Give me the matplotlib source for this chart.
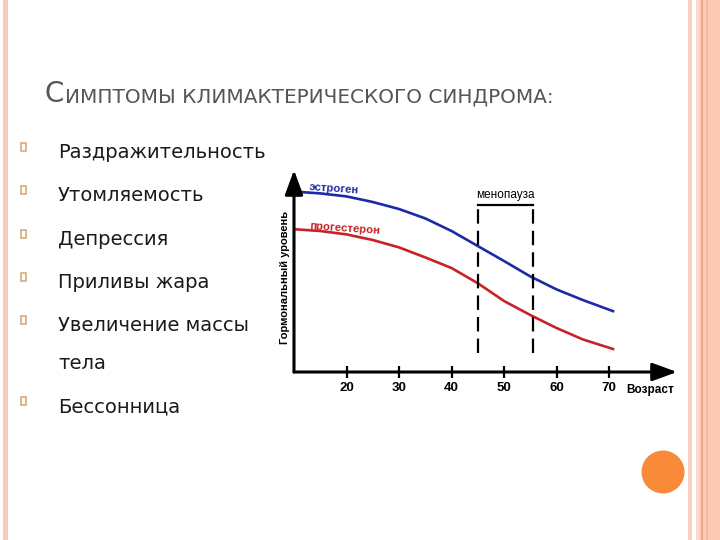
import matplotlib

matplotlib.use("Agg")
import matplotlib.pyplot as plt
from matplotlib.patches import Rectangle, Circle

# slide text
TITLE_FIRST = "С"
TITLE_REST = "ИМПТОМЫ КЛИМАКТЕРИЧЕСКОГО СИНДРОМА:"
SYMPTOMS = ["Раздражительность", "Утомляемость", "Депрессия", "Приливы жара",
            "Увеличение массы", "тела", "Бессонница"]
HAS_BULLET = [True, True, True, True, True, False, True]

# chart data (age vs hormone level)
AGES = [10, 15, 20, 25, 30, 35, 40, 45, 50, 55, 60, 65, 71]
ESTROGEN = [90.2, 89.3, 87.8, 85.0, 81.5, 76.8, 70.5, 63.0, 55.5, 47.8, 41.3, 36.0, 30.2]
PROGESTERONE = [71.4, 70.5, 68.8, 66.0, 62.3, 57.3, 52.0, 44.4, 35.5, 28.5, 22.0, 16.3, 11.3]
AGE_TICKS = [20, 30, 40, 50, 60, 70]
MENOPAUSE = (45, 55.6)

BLUE = "#1d2aa6"
RED = "#c62228"

fig = plt.figure(figsize=(7.2, 5.4), dpi=100)
fig.patch.set_facecolor("white")

# slide layer in pixel coordinates
bg = fig.add_axes([0, 0, 1, 1], zorder=0)
bg.set_xlim(0, 720)
bg.set_ylim(540, 0)
bg.axis("off")

# borders
bg.add_patch(Rectangle((3, 0), 4.5, 540, color="#f9cbbb", lw=0))
bg.add_patch(Rectangle((688, 0), 4, 540, color="#fad2c4", lw=0))
bg.add_patch(Rectangle((696, 0), 24, 540, color="#fcc9b4", lw=0))
bg.add_patch(Rectangle((696, 0), 4, 540, color="#fdd8ca", lw=0))
bg.add_patch(Rectangle((701, 0), 2, 540, color="#f2a884", lw=0))
bg.add_patch(Rectangle((706, 0), 1.5, 540, color="#f7b99c", lw=0))
bg.add_patch(Circle((663, 472), 21.5, color="#f98a3a", lw=0))

# title in small caps
renderer = fig.canvas.get_renderer()
t1 = bg.text(45, 102.5, TITLE_FIRST, fontsize=20, color="#555555",
             family="DejaVu Sans", va="baseline", ha="left")
x_end = t1.get_window_extent(renderer).x1
bg.text(x_end + 1, 102.5, TITLE_REST, fontsize=14.4, color="#555555",
        family="DejaVu Sans", va="baseline", ha="left")

# symptom list
baselines = [158, 201, 245, 288, 331, 369, 412]
for text, base, bullet in zip(SYMPTOMS, baselines, HAS_BULLET):
    bg.text(58, base, text, fontsize=14, color="#1a1a1a",
            family="DejaVu Sans", va="baseline", ha="left")
    if bullet:
        bg.add_patch(Rectangle((20.5, base - 15.5), 5.5, 8.5, fill=False,
                               edgecolor="#d6a272", lw=1.1))

# chart
x0, x1, y0, y1 = 294, 677, 372, 170
ax = fig.add_axes([x0 / 720, (540 - y0) / 540, (x1 - x0) / 720, (y0 - y1) / 540],
                  zorder=1)
ax.patch.set_alpha(0)
ax.set_xlim(10, 10 + (x1 - x0) / 5.25)
ax.set_ylim(0, 101)
for s in ax.spines.values():
    s.set_visible(False)

arrow = dict(arrowstyle="-|>,head_length=1.5,head_width=0.55", lw=2.2,
             color="black", shrinkA=0, shrinkB=0, mutation_scale=10)
ax.annotate("", xy=(1, 0), xytext=(0, 0), xycoords="axes fraction", arrowprops=arrow)
ax.annotate("", xy=(0, 1), xytext=(0, 0), xycoords="axes fraction", arrowprops=arrow)

ax.plot(AGES, ESTROGEN, color=BLUE, lw=1.9, solid_capstyle="butt",
        solid_joinstyle="round")
ax.plot(AGES, PROGESTERONE, color=RED, lw=1.9, solid_capstyle="butt",
        solid_joinstyle="round")

ax.set_xticks(AGE_TICKS)
ax.set_xticklabels([str(a) for a in AGE_TICKS], fontsize=9.5, fontweight="bold",
                   family="Liberation Sans")
ax.tick_params(axis="x", direction="inout", length=8, width=1.6, pad=3.5)
ax.set_yticks([])

ax.set_ylabel("Гормональный уровень", fontsize=8, fontweight="bold",
              family="Liberation Sans")
ax.yaxis.set_label_coords(-0.01, 0.468)

ax.annotate("Возраст", xy=(73.3, 0), xycoords=("data", "axes fraction"),
            xytext=(0, -13), textcoords="offset points", ha="left", va="center",
            fontsize=8.5, fontweight="bold", family="Liberation Sans")

# menopause bracket
top = 83.5
ax.plot(MENOPAUSE, [top, top], color="black", lw=1.6, solid_capstyle="projecting")
ax.vlines(MENOPAUSE, 9.5, top, colors="black", lw=1.6,
          linestyles=(0, (6.5, 3.2)))
ax.text(sum(MENOPAUSE) / 2, 88.5, "менопауза", ha="center", va="center",
        fontsize=8.5, family="Liberation Sans")

ax.text(12.9, 92.3, "эстроген", color=BLUE, fontsize=8.2, fontweight="bold",
        family="Liberation Sans", rotation=-4, ha="left", va="center",
        rotation_mode="anchor")
ax.text(12.9, 72.8, "прогестерон", color=RED, fontsize=8.2, fontweight="bold",
        family="Liberation Sans", rotation=-4, ha="left", va="center",
        rotation_mode="anchor")

fig.savefig("out.png", dpi=100)
